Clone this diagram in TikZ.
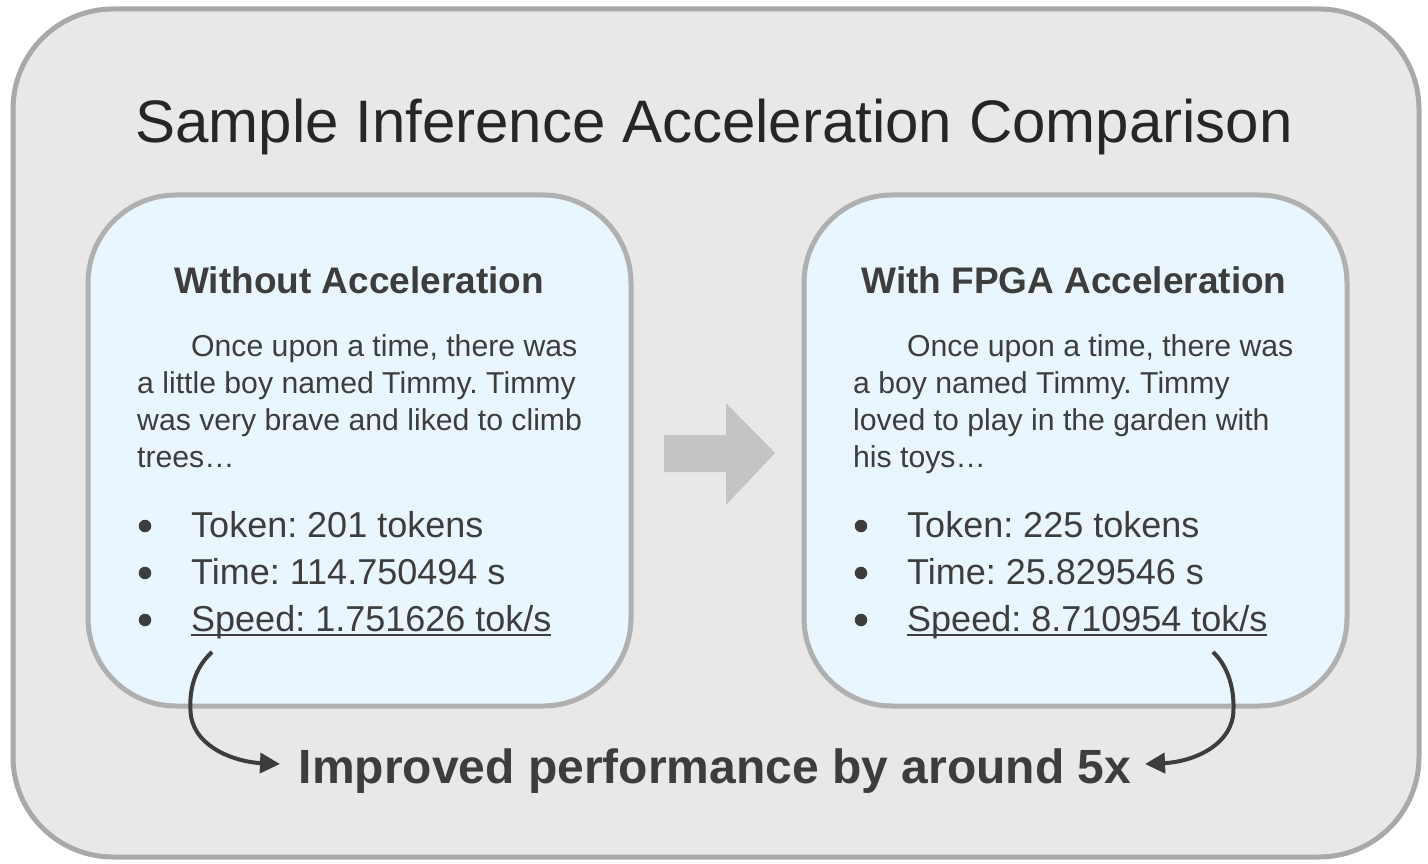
\documentclass[tikz,border=0pt]{standalone}
\usepackage{fontspec}
\setmainfont{Liberation Sans}
\usetikzlibrary{arrows.meta}
\frenchspacing
\definecolor{outerfill}{HTML}{E8E8E8}
\definecolor{outerline}{HTML}{A9A9A9}
\definecolor{innerfill}{HTML}{EAF6FD}
\definecolor{innerline}{HTML}{B0B0B0}
\definecolor{txt}{HTML}{3D3D3D}
\definecolor{titletxt}{HTML}{262626}
\definecolor{bigarrow}{HTML}{C4C4C4}
\newcommand\myul[1]{\setbox0\hbox{#1}\rlap{\color{txt}\rule[-5pt]{\wd0}{2.2pt}}\box0}
\tikzset{
  outerbox/.style={draw=outerline, fill=outerfill, line width=5pt, rounded corners=100pt},
  innerbox/.style={draw=innerline, fill=innerfill, line width=5pt, rounded corners=88pt},
  txtline/.style={anchor=base west, inner sep=0pt, text=txt, font=\fontsize{30.2}{37}\selectfont},
  bulletline/.style={anchor=base west, inner sep=0pt, text=txt, font=\fontsize{36}{42}\selectfont},
  bulletdot/.style={circle, fill=txt, inner sep=0pt, minimum size=12.5pt},
  headtxt/.style={anchor=base, inner sep=0pt, text=txt, font=\fontsize{37}{44}\selectfont\bfseries},
  curvearrow/.style={draw=txt, line width=4pt, -{Triangle[length=20pt,width=20pt]}},
}
\begin{document}
\begin{tikzpicture}[x=1pt,y=-1pt]
\useasboundingbox (0,0) rectangle (1428,864);
\fill[white] (0,0) rectangle (1428,864);
% outer frame
\draw[outerbox] (13,9) rectangle (1419,857);
\node[anchor=base, inner sep=0pt, text=titletxt, font=\fontsize{60}{72}\selectfont] (title) at (714,143) {Sample Inference Acceleration Comparison};
% inner boxes
\draw[innerbox] (88,195) rectangle (631,706);
\draw[innerbox] (804,195) rectangle (1347,706);
% headings
\node[headtxt] (h1) at (359,293) {Without Acceleration};
\node[headtxt] (h2) at (1074,293) {With FPGA Acceleration};
% left paragraph
\node[txtline] (l1) at (191,356) {Once upon a time, there was};
\node[txtline] (l2) at (137,393) {a little boy named Timmy. Timmy};
\node[txtline] (l3) at (137,430) {was very brave and liked to climb};
\node[txtline] (l4) at (137,467) {trees…};
% right paragraph
\node[txtline] (r1) at (907,356) {Once upon a time, there was};
\node[txtline] (r2) at (853,393) {a boy named Timmy. Timmy};
\node[txtline] (r3) at (853,430) {loved to play in the garden with};
\node[txtline] (r4) at (853,467) {his toys…};
% left bullets
\node[bulletdot] (lb1) at (145,526) {};
\node[bulletdot] (lb2) at (145,573) {};
\node[bulletdot] (lb3) at (145,620) {};
\node[bulletline] (lt1) at (191,537) {Token: 201 tokens};
\node[bulletline] (lt2) at (191,584) {Time: 114.750494 s};
\node[bulletline] (lt3) at (191,631) {\myul{Speed: 1.751626 tok/s}};
% right bullets
\node[bulletdot] (rb1) at (861,526) {};
\node[bulletdot] (rb2) at (861,573) {};
\node[bulletdot] (rb3) at (861,620) {};
\node[bulletline] (rt1) at (907,537) {Token: 225 tokens};
\node[bulletline] (rt2) at (907,584) {Time: 25.829546 s};
\node[bulletline] (rt3) at (907,631) {\myul{Speed: 8.710954 tok/s}};
% big grey arrow
\fill[bigarrow] (664,435) -- (726,435) -- (726,403) -- (775,453) -- (726,505) -- (726,472) -- (664,472) -- cycle;
% bottom text
\node[anchor=base, inner sep=0pt, text=txt, font=\fontsize{48}{56}\selectfont\bfseries] (bottom) at (715,783) {Improved performance by around 5x};
% curved arrows
\coordinate (ls) at (212,652);
\coordinate (le) at (280,764);
\coordinate (rs) at (1213,652);
\coordinate (re) at (1145,764);
\draw[curvearrow] (ls) .. controls (190,672) and (189,700) .. (191,716) .. controls (196,748) and (236,762) .. (le);
\draw[curvearrow] (rs) .. controls (1232,670) and (1235,698) .. (1233,716) .. controls (1228,748) and (1190,762) .. (re);
\end{tikzpicture}
\end{document}
